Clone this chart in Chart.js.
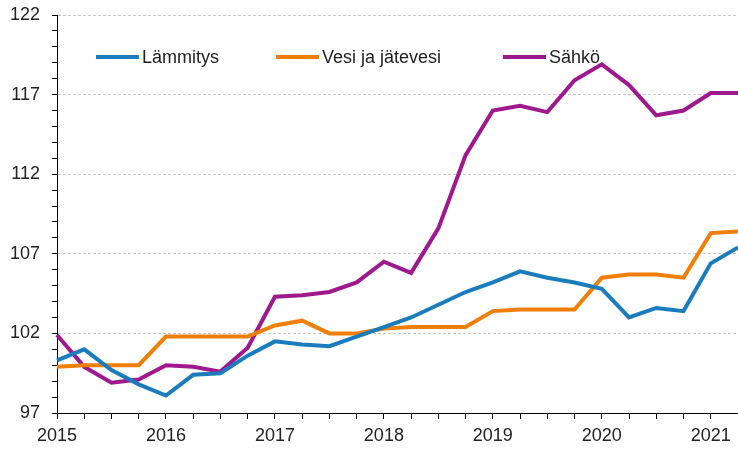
<!DOCTYPE html>
<html>
<head>
<meta charset="utf-8">
<script src="https://cdn.jsdelivr.net/npm/chart.js@4/dist/chart.umd.min.js"></script>
<style>
  html, body { margin: 0; padding: 0; background: #fff; }
  #wrap { width: 738px; height: 450px; }
</style>
</head>
<body>
<div id="wrap"><canvas id="chart"></canvas></div>
<script>
// quarters 2015Q1 .. 2021Q2
const quarters = [
  "2015Q1", "2015Q2", "2015Q3", "2015Q4",
  "2016Q1", "2016Q2", "2016Q3", "2016Q4",
  "2017Q1", "2017Q2", "2017Q3", "2017Q4",
  "2018Q1", "2018Q2", "2018Q3", "2018Q4",
  "2019Q1", "2019Q2", "2019Q3", "2019Q4",
  "2020Q1", "2020Q2", "2020Q3", "2020Q4",
  "2021Q1", "2021Q2",
];

const lammitys = [
  100.3, 101.0, 99.7, 98.8, 98.1, 99.4, 99.5, 100.6,
  101.5, 101.3, 101.2, 101.8, 102.4, 103.0, 103.8, 104.6,
  105.2, 105.9, 105.5, 105.2, 104.8, 103.0, 103.6, 103.4,
  106.4, 107.4,
];

const vesi = [
  99.9, 100.0, 100.0, 100.0, 101.8, 101.8, 101.8, 101.8,
  102.5, 102.8, 102.0, 102.0, 102.3, 102.4, 102.4, 102.4,
  103.4, 103.5, 103.5, 103.5, 105.5, 105.7, 105.7, 105.5,
  108.3, 108.4,
];

const sahko = [
  101.9, 99.9, 98.9, 99.1, 100.0, 99.9, 99.6, 101.1,
  104.3, 104.4, 104.6, 105.2, 106.5, 105.8, 108.6, 113.2,
  116.0, 116.3, 115.9, 117.9, 118.9, 117.6, 115.7, 116.0,
  117.1, 117.1,
];

const seriesNames = ["Lämmitys", "Vesi ja jätevesi", "Sähkö"];
const seriesColors = ["#1a7bbd", "#f07f0a", "#a0188d"];
const yLabelValues = [97, 102, 107, 112, 117, 122];

const FONT = "Liberation Sans, Arial, sans-serif";

// legend drawn inside the plot area
const innerLegend = {
  id: "innerLegend",
  afterDraw(chart, args, opts) {
    const ctx = chart.ctx;
    ctx.save();
    ctx.font = opts.fontSize + "px " + FONT;
    ctx.textBaseline = "middle";
    ctx.textAlign = "left";
    chart.data.datasets.forEach((ds, i) => {
      const x = opts.xs[i];
      ctx.strokeStyle = ds.borderColor;
      ctx.lineWidth = 4;
      ctx.beginPath();
      ctx.moveTo(x, opts.y);
      ctx.lineTo(x + opts.lineLen, opts.y);
      ctx.stroke();
      ctx.fillStyle = "#222";
      ctx.fillText(ds.label, x + opts.lineLen + 3, opts.y + 1);
    });
    ctx.restore();
  },
};

const datasets = [lammitys, vesi, sahko].map((d, i) => ({
  label: seriesNames[i],
  data: d,
  borderColor: seriesColors[i],
  backgroundColor: seriesColors[i],
  borderWidth: 4,
  pointRadius: 0,
  tension: 0,
}));

new Chart(document.getElementById("chart"), {
  type: "line",
  plugins: [innerLegend],
  data: { labels: quarters, datasets },
  options: {
    responsive: true,
    maintainAspectRatio: false,
    animation: false,
    layout: { padding: { top: 15, right: 0, left: 0, bottom: 0 } },
    plugins: {
      legend: { display: false },
      tooltip: { enabled: false },
      innerLegend: { xs: [96, 276, 503], y: 57, lineLen: 43, fontSize: 18 },
    },
    scales: {
      x: {
        offset: false,
        afterFit: (scale) => {
          scale.height = 37;
          scale.paddingLeft = 0;
          scale.paddingRight = 0;
        },
        border: { display: true, color: "#000", width: 1 },
        grid: {
          drawOnChartArea: false,
          drawTicks: true,
          tickLength: 6,
          tickColor: "#000",
        },
        ticks: {
          autoSkip: false,
          maxRotation: 0,
          padding: 6,
          color: "#222",
          font: { size: 18, family: FONT },
          callback: function (val, idx) {
            return idx % 4 === 0 ? quarters[idx].slice(0, 4) : "";
          },
        },
      },
      y: {
        min: 97,
        max: 122,
        afterFit: (scale) => {
          scale.width = 57;
          scale.paddingTop = 0;
          scale.paddingBottom = 0;
        },
        border: { display: true, color: "#000", width: 1, dash: [3, 2] },
        grid: {
          color: (ctx) =>
            ctx.tick && ctx.tick.value > 97 && yLabelValues.includes(ctx.tick.value)
              ? "#c8c8c8"
              : "rgba(0,0,0,0)",
          tickColor: "#000",
          tickLength: 5,
          tickBorderDash: [],
        },
        ticks: {
          stepSize: 1,
          autoSkip: false,
          padding: 12,
          color: "#222",
          font: { size: 18, family: FONT },
          callback: (v) => (yLabelValues.includes(v) ? String(v) : ""),
        },
      },
    },
  },
});
</script>
</body>
</html>
